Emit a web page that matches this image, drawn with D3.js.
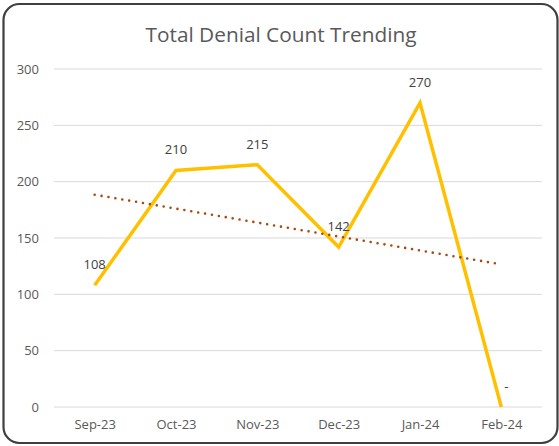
<!DOCTYPE html>
<html><head><meta charset="utf-8">
<script src="https://cdn.jsdelivr.net/npm/d3@7"></script>
<style>html,body{margin:0;padding:0;background:#fff;}svg{display:block;}</style>
</head><body>
<svg id="c" width="559" height="446"></svg>
<script>
const categories = ["Sep-23","Oct-23","Nov-23","Dec-23","Jan-24","Feb-24"];
const values = [108, 210, 215, 142, 270, 0];
const valueLabels = ["108","210","215","142","270","-"];
const yTicks = [0, 50, 100, 150, 200, 250, 300];
const title = "Total Denial Count Trending";

const svg = d3.select("#c");
const font = "'Open Sans', sans-serif";
const W = 559, H = 446;
const m = {left: 54, right: 17, top: 69, bottom: 39};

svg.append("rect").attr("x", 3.5).attr("y", 4).attr("width", 554).attr("height", 439)
  .attr("rx", 16).attr("fill", "#fff").attr("stroke", "#3f3f3f").attr("stroke-width", 2.2);

const x = d3.scalePoint().domain(categories).range([m.left, W - m.right]).padding(0.5);
const y = d3.scaleLinear().domain([0, 300]).range([H - m.bottom, m.top]);

// gridlines
svg.append("g").selectAll("line").data(yTicks).join("line")
  .attr("x1", m.left).attr("x2", W - m.right)
  .attr("y1", d => y(d)).attr("y2", d => y(d))
  .attr("stroke", "#d9d9d9").attr("stroke-width", 1);

// y axis
const ya = svg.append("g").attr("transform", `translate(${m.left},0)`)
  .call(d3.axisLeft(y).tickValues(yTicks).tickSize(0).tickPadding(15));
ya.select(".domain").remove();
ya.selectAll("text").attr("font-family", font).attr("font-size", 13).attr("fill", "#595959");

// x axis
const xa = svg.append("g").attr("transform", `translate(0,${H - m.bottom})`)
  .call(d3.axisBottom(x).tickSize(0).tickPadding(13));
xa.select(".domain").remove();
xa.selectAll("text").attr("font-family", font).attr("font-size", 13).attr("fill", "#595959");

// trend line (linear regression)
const xs = values.map((v, i) => i);
const mx = d3.mean(xs), my = d3.mean(values);
const slope = d3.sum(xs, (xi, i) => (xi - mx) * (values[i] - my)) / d3.sum(xs, xi => (xi - mx) ** 2);
const icp = my - slope * mx;
const trend = categories.map((c, i) => [c, icp + slope * i]);
const tl = trend[0], tr = trend[trend.length - 1];

// series line
const line = d3.line().x((d, i) => x(categories[i])).y(d => y(d));
svg.append("path").datum(values).attr("d", line)
  .attr("fill", "none").attr("stroke", "#FFC000").attr("stroke-width", 3.5)
  .attr("stroke-linejoin", "miter");

svg.append("line")
  .attr("x1", x(tl[0])).attr("y1", y(tl[1]))
  .attr("x2", x(tr[0])).attr("y2", y(tr[1]))
  .attr("stroke", "#A9490F").attr("stroke-width", 2.6)
  .attr("stroke-dasharray", "0 7").attr("stroke-linecap", "round");

// data labels
svg.append("g").selectAll("text").data(values).join("text")
  .attr("x", (d, i) => x(categories[i]) + (d === 0 ? 3 : 0))
  .attr("y", (d, i) => y(d) - 16)
  .attr("text-anchor", (d) => d === 0 ? "start" : "middle")
  .attr("font-family", font).attr("font-size", 13).attr("fill", "#404040")
  .text((d, i) => valueLabels[i]);

svg.append("text").attr("x", 281).attr("y", 42).attr("text-anchor", "middle")
  .attr("font-family", font).attr("font-size", 20.8).attr("fill", "#595959")
  .text(title);
</script>
</body></html>
